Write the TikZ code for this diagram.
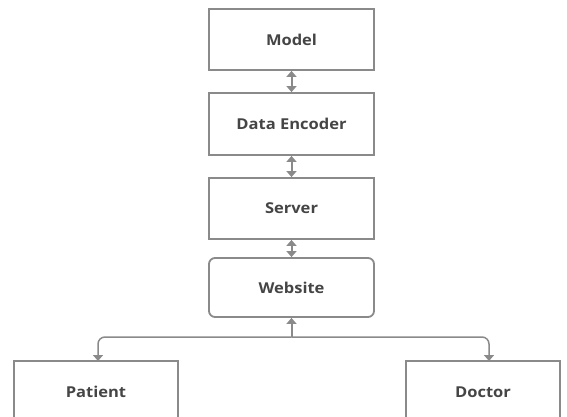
\documentclass[tikz,border=0pt]{standalone}
\usepackage{fontspec}
\setmainfont{Open Sans}
\usetikzlibrary{arrows.meta}
\definecolor{linegray}{HTML}{8A8A8A}
\definecolor{textgray}{HTML}{454545}
\tikzset{
  box/.style={draw=linegray, line width=1.8pt, minimum width=165pt, minimum height=61pt,
    inner sep=0pt, text=textgray, font=\fontsize{15}{17}\selectfont\bfseries, fill=white},
  rbox/.style={box, rounded corners=6pt},
  conn/.style={draw=linegray, line width=2pt, {Triangle[length=6pt,width=10pt]}-{Triangle[length=6pt,width=10pt]}},
  conn1/.style={draw=linegray, line width=2pt, -{Triangle[length=6pt,width=10pt]}},
  tree/.style={draw=linegray, line width=1.5pt, rounded corners=7pt, -{Triangle[length=6pt,width=10pt]}}
}
\begin{document}
\begin{tikzpicture}[x=1pt,y=-1pt]
\useasboundingbox[fill=white] (0,0) rectangle (567,417);
\node[box] (model) at (291.5,39.5) {\scalebox{1.1}[1]{Model}};
\node[box, minimum height=62pt] (enc) at (291.5,124) {\scalebox{1.1}[1]{Data Encoder}};
\node[box] (server) at (291.5,208.5) {\scalebox{1.1}[1]{Server}};
\node[rbox, minimum height=59pt] (web) at (291.5,287.5) {\scalebox{1.1}[1]{Website}};
\node[box, minimum width=164pt, minimum height=62pt] (patient) at (96,392) {\scalebox{1.1}[1]{Patient}};
\node[box, minimum width=154pt, minimum height=62pt] (doctor) at (483,392) {\scalebox{1.1}[1]{Doctor}};
\coordinate (jn) at (291.5,337);
\coordinate (pa) at (98,361);
\coordinate (da) at (489,361);
\draw[conn] (model.south) -- (enc.north);
\draw[conn] (enc.south) -- (server.north);
\draw[conn] (server.south) -- (web.north);
\draw[conn1] (jn) -- (web.south);
\draw[tree] (jn) -| (pa);
\draw[tree] (jn) -| (da);
\end{tikzpicture}
\end{document}
